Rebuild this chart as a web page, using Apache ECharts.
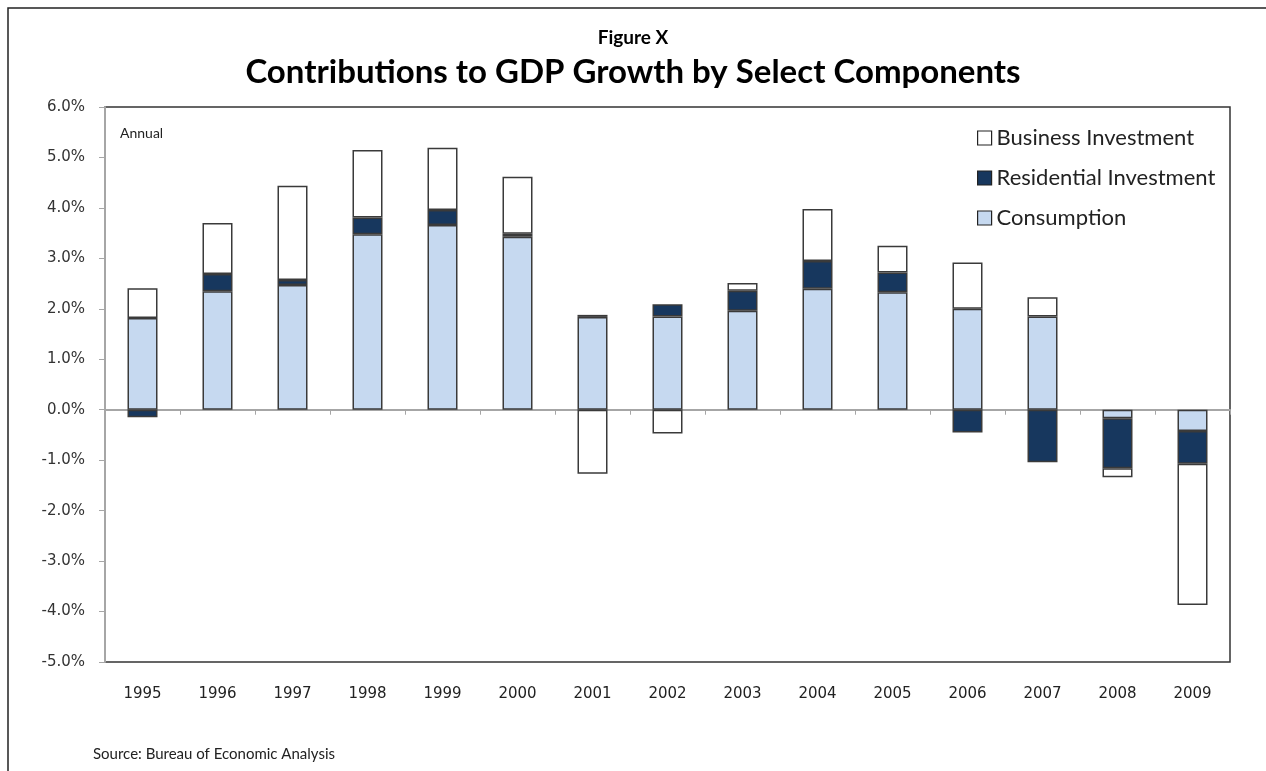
<!DOCTYPE html>
<html><head><meta charset="utf-8">
<script src="https://cdn.jsdelivr.net/npm/echarts@6/dist/echarts.min.js"></script>
<style>html,body{margin:0;padding:0;background:#fff}#c{width:1266px;height:771px}</style>
</head><body><div id="c"></div>
<script>
const years = ['1995','1996','1997','1998','1999','2000','2001','2002','2003','2004','2005','2006','2007','2008','2009'];
const consumption = [1.82, 2.35, 2.47, 3.48, 3.66, 3.43, 1.84, 1.85, 1.96, 2.40, 2.33, 2.00, 1.85, -0.17, -0.42];
const residential = [-0.15, 0.34, 0.10, 0.33, 0.30, 0.06, 0.04, 0.24, 0.40, 0.55, 0.39, -0.45, -1.04, -0.99, -0.65];
const business = [0.59, 1.01, 1.87, 1.34, 1.23, 1.13, -1.27, -0.47, 0.15, 1.03, 0.53, 0.92, 0.38, -0.18, -2.80];

const chart = echarts.init(document.getElementById('c'));
const border = {borderColor: '#3a3a3a', borderWidth: 1.5};
chart.setOption({
  animation: false,
  textStyle: {fontFamily: 'Lato'},
  graphic: [
    {type: 'rect', shape: {x: 8, y: 8, width: 1270, height: 780}, style: {fill: 'none', stroke: '#222', lineWidth: 1.5}, silent: true},
    {type: 'text', left: 'center', top: 28, style: {text: 'Figure X', font: 'bold 19px Lato', fill: '#000'}},
    {type: 'text', left: 'center', top: 56, style: {text: 'Contributions to GDP Growth by Select Components', font: 'bold 33px Lato', fill: '#000'}},
    {type: 'text', left: 120, top: 126, style: {text: 'Annual', font: '14px Lato', fill: '#222'}},
    {type: 'text', left: 93, top: 747, style: {text: 'Source: Bureau of Economic Analysis', font: '15px Lato', fill: '#222'}}
  ],
  legend: {
    orient: 'vertical', left: 972, top: 122, itemWidth: 14, itemHeight: 14, itemGap: 18, icon: 'rect',
    data: ['Business Investment', 'Residential Investment', 'Consumption'],
    textStyle: {fontSize: 22, color: '#222', fontFamily: 'Lato'},
    itemStyle: {borderColor: '#222', borderWidth: 1.2}
  },
  grid: {left: 105, top: 107, right: 36, bottom: 109, show: true, borderColor: '#333', borderWidth: 1.5, backgroundColor: '#fff'},
  xAxis: [
    {type: 'category', data: years, axisLine: {onZero: true, lineStyle: {color: '#a6a6a6', width: 2}},
     axisTick: {show: true, length: 5, lineStyle: {color: '#a6a6a6'}}, axisLabel: {show: false}},
    {type: 'category', data: years, position: 'bottom', axisLine: {show: false}, axisTick: {show: false},
     axisLabel: {fontSize: 15, color: '#222', margin: 25, fontFamily: 'DejaVu Sans'}}
  ],
  yAxis: {
    type: 'value', min: -5, max: 6, interval: 1,
    axisLine: {show: true, lineStyle: {color: '#a6a6a6', width: 2}},
    axisTick: {show: true, length: 6, lineStyle: {color: '#a6a6a6'}},
    splitLine: {show: false},
    axisLabel: {formatter: v => v.toFixed(1) + '%', fontSize: 15, color: '#333', margin: 20, fontFamily: 'DejaVu Sans'}
  },
  series: [
    {name: 'Consumption', type: 'bar', stack: 'g', data: consumption, barWidth: 30, itemStyle: Object.assign({color: '#c6d9f0'}, border)},
    {name: 'Residential Investment', type: 'bar', stack: 'g', data: residential, barWidth: 30, itemStyle: Object.assign({color: '#17375e'}, border)},
    {name: 'Business Investment', type: 'bar', stack: 'g', data: business, barWidth: 30, itemStyle: Object.assign({color: '#ffffff'}, border)}
  ]
});
</script></body></html>
